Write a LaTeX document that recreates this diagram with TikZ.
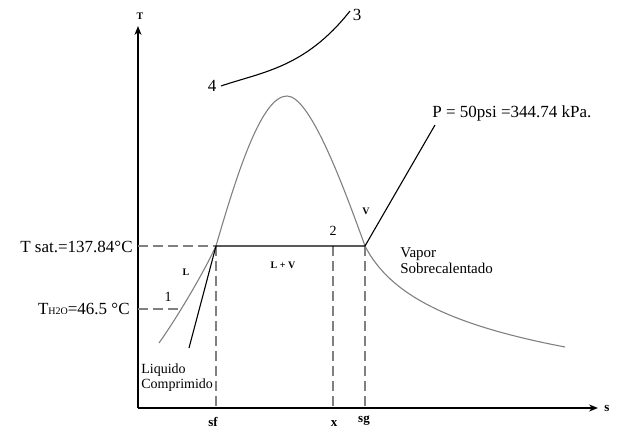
\documentclass[tikz,border=0pt]{standalone}
\usepackage{fontspec}
\setmainfont{Liberation Serif}
\usetikzlibrary{arrows.meta, calc}

\tikzset{
  curve/.style={gray, line width=1.1pt},
  guide/.style={gray, line width=1.1pt, dash pattern=on 10pt off 5pt},
  bigtxt/.style={font=\fontsize{17}{19}\selectfont, inner sep=1pt},
  midtxt/.style={font=\fontsize{14}{15}\selectfont, inner sep=1pt},
  smalltxt/.style={font=\bfseries\fontsize{10}{11}\selectfont, inner sep=1pt},
  axlab/.style={font=\bfseries\fontsize{13}{14}\selectfont, inner sep=1pt},
}

\begin{document}
\begin{tikzpicture}[>={Stealth[length=9pt, width=7pt]}, thick, x=1pt, y=-1pt]
  \useasboundingbox (0,0) rectangle (619,430);

  % Axes
  \coordinate (O) at (138,408);
  \coordinate (Ttop) at (138,26);
  \coordinate (Send) at (598,408);
  \draw[->, line width=1.5pt] (O) -- (Ttop);
  \draw[->, line width=1.5pt] (O) -- (Send);
  \node[smalltxt] (Tlab) at (140,16) {T};
  \node[axlab] (slab) at (607,409) {s};

  % Saturation states
  \coordinate (sf) at (216,246);
  \coordinate (sg) at (365,246);
  \coordinate (p2) at (333,246);
  \coordinate (p1) at (181,309);
  \coordinate (top) at (287,96);

  % Dome and superheated tail
  \draw[curve] (159,343) .. controls (172,325) and (200,280) .. (sf)
    .. controls (238,170) and (262,96) .. (top)
    .. controls (310,96) and (343,185) .. (sg)
    .. controls (390,295) and (450,325) .. (565,347);

  % Dashed guides
  \draw[guide] (O |- sf) -- (sf);
  \draw[guide] (O |- p1) -- (p1);
  \draw[guide] (sf) -- (sf |- O);
  \draw[guide] (p2) -- (p2 |- O);
  \draw[guide] (sg) -- (sg |- O);

  % Isobar P = 50 psi
  \coordinate (liq) at (189,348);
  \coordinate (vap) at (435,125);
  \draw[line width=1.1pt] (liq) -- (sf) -- (sg) -- (vap);

  % Process 4-3
  \coordinate (s4) at (221,86);
  \coordinate (s3) at (350,11);
  \draw[line width=1.1pt] (s4) .. controls (262,72) and (305,68) .. (s3);

  % Labels
  \node[bigtxt] (n3) at (357,15) {3};
  \node[bigtxt] (n4) at (212,86) {4};
  \node[bigtxt, anchor=east] (Tsat) at (134,247) {T sat.=137.84°C};
  \node[bigtxt, anchor=east] (Th2o) at (131,309) {T{\fontsize{10}{11}\selectfont H2O}=46.5 °C};
  \node[midtxt] (n1) at (168,297) {1};
  \node[midtxt] (n2) at (333,231) {2};
  \node[smalltxt] (Llab) at (186,272) {L};
  \node[smalltxt] (LVlab) at (283,265) {L + V};
  \node[smalltxt] (Vlab) at (366,211) {V};
  \node[bigtxt, anchor=west] (Plab) at (431,113) {P = 50psi =344.74 kPa.};
  \node[midtxt, font=\fontsize{15}{16}\selectfont, anchor=west, align=left] (vapor) at (399,261) {Vapor\\Sobrecalentado};
  \node[midtxt, anchor=west, align=left] (liquido) at (140,378) {Liquido\\Comprimido};
  \node[axlab] (sflab) at (213,422) {sf};
  \node[axlab] (xlab) at (334,424) {x};
  \node[axlab] (sglab) at (364,421) {sg};
\end{tikzpicture}
\end{document}
